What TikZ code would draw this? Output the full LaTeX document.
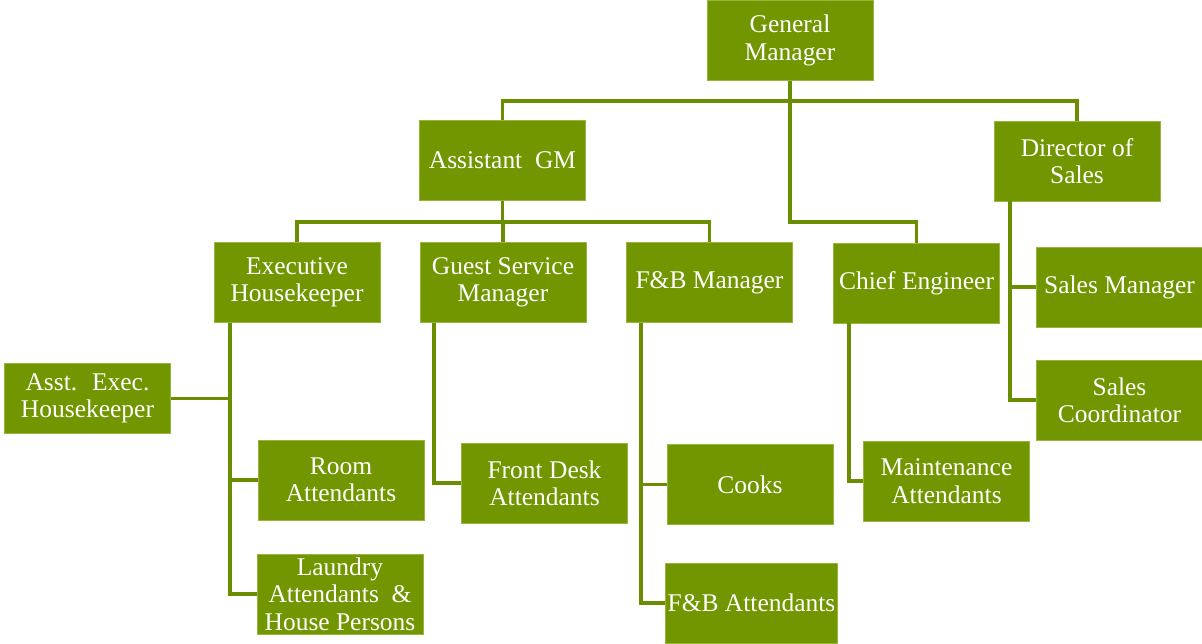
\documentclass[tikz,border=0pt]{standalone}
\usepackage{fontspec}
\setmainfont{Liberation Serif}
\usetikzlibrary{calc}
\definecolor{leaf}{RGB}{113,150,0}
\definecolor{leafedge}{RGB}{150,182,60}
\definecolor{wire}{RGB}{106,142,0}

\tikzset{
  post/.style={draw=leafedge, line width=0.5pt, fill=leaf, text=white,
    minimum width=3.32cm, minimum height=1.6cm, align=center, inner sep=1pt,
    font=\fontsize{14.5}{15.6}\selectfont},
  link/.style={wire, line width=2.2pt}
}

\begin{document}
\begin{tikzpicture}
        \useasboundingbox (0,0) rectangle (24.04,-12.86);
        % top levels
        \node[post] (gm) at (15.80,-0.81) {General\\Manager};
        \node[post] (agm) at (10.05,-3.21) {Assistant~ GM};
        \node[post] (dos) at (21.54,-3.22) {Director of\\Sales};
        \node[post] (eh) at (5.94,-5.65) {Executive\\Housekeeper};
        \node[post] (gsm) at (10.06,-5.65) {Guest Service\\Manager};
        \node[post] (fbm) at (14.19,-5.65) {F\&B Manager};
        \node[post] (ce) at (18.33,-5.66) {Chief Engineer};
        \node[post] (sm) at (22.39,-5.74) {Sales Manager};
        \node[post] (sc) at (22.39,-8.00) {Sales\\Coordinator};
        % staff
        \node[post, minimum height=1.4cm] (aeh) at (1.75,-7.97) {Asst.~ Exec.\\Housekeeper};
        \node[post] (ra) at (6.82,-9.60) {Room\\Attendants};
        \node[post] (la) at (6.80,-11.88) {Laundry\\Attendants~ \&\\House Persons};
        \node[post] (fda) at (10.89,-9.66) {Front Desk\\Attendants};
        \node[post] (cooks) at (15.00,-9.69) {Cooks};
        \node[post] (fba) at (15.03,-12.06) {F\&B Attendants};
        \node[post] (ma) at (18.93,-9.62) {Maintenance\\Attendants};

        % buses and trunks
        \coordinate (bus1) at (15.81,-2.02);
        \coordinate (bus2) at (10.05,-4.44);
        \coordinate (ehline) at (4.60,0);
        \coordinate (gsmline) at (8.68,0);
        \coordinate (fbline) at (12.82,0);
        \coordinate (celine) at (16.98,0);
        \coordinate (dosline) at (20.20,0);

        \draw[link] (agm.north) |- (bus1) -| (dos.north);
        \draw[link] (gm.south) -- (gm.south |- bus2) -| (ce.north);
        \draw[link] (agm.south) -- (bus2);
        \draw[link] (eh.north) |- (bus2) -| (fbm.north);
        \draw[link] (gsm.north) -- (gsm.north |- bus2);

        \draw[link] (eh.south -| ehline) |- (la.west);
        \draw[link] (aeh.east) -- (aeh.east -| ehline);
        \draw[link] (ra.west) -- (ra.west -| ehline);
        \draw[link] (gsm.south -| gsmline) |- (fda.west);
        \draw[link] (fbm.south -| fbline) |- (fba.west);
        \draw[link] (cooks.west) -- (cooks.west -| fbline);
        \draw[link] (ce.south -| celine) |- (ma.west);
        \draw[link] (dos.south -| dosline) |- (sc.west);
        \draw[link] (sm.west) -- (sm.west -| dosline);
    \end{tikzpicture}
\end{document}
